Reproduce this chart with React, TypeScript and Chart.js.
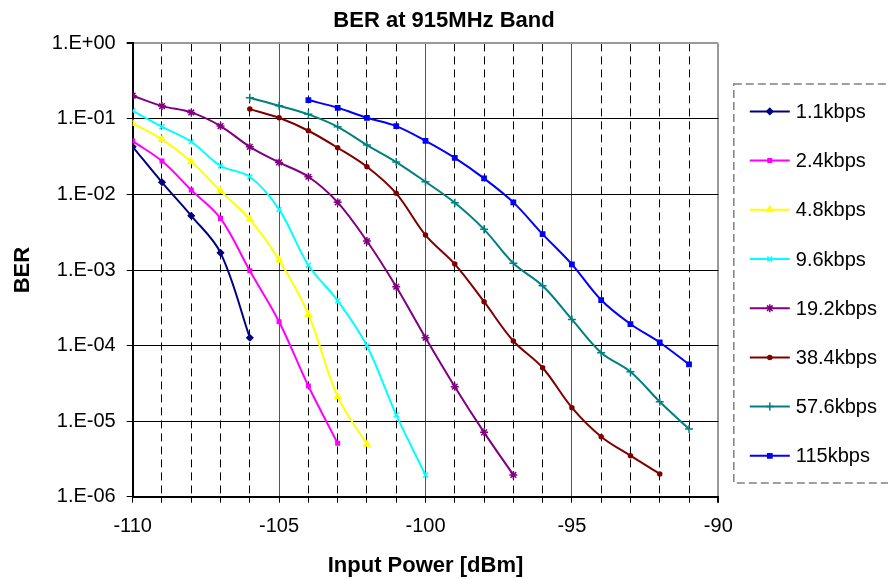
import { useEffect, useRef } from 'react';
import { Chart, registerables } from 'chart.js';
import { drawPoint } from 'chart.js/helpers';

Chart.register(...registerables);

const FONT = '"Liberation Sans", Arial, sans-serif';

const seriesNames = ['1.1kbps', '2.4kbps', '4.8kbps', '9.6kbps', '19.2kbps', '38.4kbps', '57.6kbps', '115kbps'];
const seriesColors = ['#000080', '#FF00FF', '#FFFF00', '#00FFFF', '#800080', '#800000', '#008080', '#0000FF'];
const seriesMarkers = ['rectRot', 'rect', 'triangle', 'crossRot', 'star', 'circle', 'cross', 'rect'];
const seriesMarkerSizes = [3, 2.5, 3.5, 3.5, 4, 2, 4, 3];

const x11 = [-110, -109, -108, -107, -106];
const ber11 = [0.0428, 0.0145, 0.00523, 0.00169, 0.000127];

const x24 = [-110, -109, -108, -107, -106, -105, -104, -103];
const ber24 = [0.0509, 0.0277, 0.01145, 0.00483, 0.00098, 0.000207, 0.0000292, 0.00000509];

const x48 = [-110, -109, -108, -107, -106, -105, -104, -103, -102];
const ber48 = [0.0873, 0.0536, 0.0271, 0.01111, 0.00469, 0.00136, 0.000259, 0.0000211, 0.00000494];

const x96 = [-110, -109, -108, -107, -106, -105, -104, -103, -102, -101, -100];
const ber96 = [0.128, 0.0788, 0.0499, 0.024, 0.0172, 0.00635, 0.00116, 0.000393, 0.0000987, 0.0000121, 0.00000194];

const x192 = [-110, -109, -108, -107, -106, -105, -104, -103, -102, -101, -100, -99, -98, -97];
const ber192 = [0.203, 0.148, 0.122, 0.0805, 0.0428, 0.0266, 0.01717, 0.00787, 0.00242, 0.000601, 0.000127, 0.0000286, 0.00000711, 0.00000194];

const x384 = [-106, -105, -104, -103, -102, -101, -100, -99, -98, -97, -96, -95, -94, -93, -92];
const ber384 = [0.135, 0.1037, 0.0698, 0.0416, 0.0233, 0.01035, 0.0029, 0.0012, 0.000381, 0.000115, 0.0000509, 0.0000151, 0.00000622, 0.00000349, 0.000002];

const x576 = [-106, -105, -104, -103, -102, -101, -100, -99, -98, -97, -96, -95, -94, -93, -92, -91];
const ber576 = [0.1906, 0.1495, 0.115, 0.0788, 0.0451, 0.0269, 0.01475, 0.00778, 0.00346, 0.00123, 0.000619, 0.000222, 0.0000805, 0.0000451, 0.0000181, 0.00000787];

const x115 = [-104, -103, -102, -101, -100, -99, -98, -97, -96, -95, -94, -93, -92, -91];
const ber115 = [0.178, 0.1406, 0.1037, 0.0805, 0.0514, 0.0306, 0.01633, 0.00787, 0.00299, 0.00119, 0.000401, 0.000193, 0.00011, 0.0000565];

const seriesX = [x11, x24, x48, x96, x192, x384, x576, x115];
const seriesY = [ber11, ber24, ber48, ber96, ber192, ber384, ber576, ber115];

const yTickValues = [1e-6, 1e-5, 1e-4, 1e-3, 1e-2, 1e-1, 1];
const yTickLabels = ['1.E-06', '1.E-05', '1.E-04', '1.E-03', '1.E-02', '1.E-01', '1.E+00'];

const boxLegend = {
  id: 'boxLegend',
  afterDraw(chart: any) {
    const { ctx, chartArea } = chart;
    const left = chartArea.right + 15.5;
    const top = chartArea.top + 40.7;
    ctx.save();
    ctx.strokeStyle = '#808080';
    ctx.lineWidth = 1.5;
    ctx.setLineDash([8, 4]);
    ctx.strokeRect(left, top, 400, 399);
    ctx.setLineDash([]);
    chart.data.datasets.forEach((ds: any, i: number) => {
      const y = top + 27.3 + i * 49.2;
      ctx.strokeStyle = ds.borderColor;
      ctx.lineWidth = 2;
      ctx.beginPath();
      ctx.moveTo(left + 16, y);
      ctx.lineTo(left + 56, y);
      ctx.stroke();
      ctx.fillStyle = ds.backgroundColor;
      ctx.strokeStyle = ds.borderColor;
      ctx.lineWidth = 1.5;
      drawPoint(ctx, { pointStyle: ds.pointStyle, radius: ds.pointRadius, rotation: 0, borderWidth: 1.5 } as any, left + 36, y);
      ctx.fillStyle = '#000';
      ctx.font = `20px ${FONT}`;
      ctx.textBaseline = 'middle';
      ctx.textAlign = 'left';
      ctx.fillText(ds.label, left + 62, y + 1);
    });
    ctx.restore();
  },
};

export default function App() {
  const ref = useRef<HTMLCanvasElement>(null);
  useEffect(() => {
    if (!ref.current) return;
    const datasets = seriesNames.map((name, i) => ({
      label: name,
      data: seriesX[i].map((x, j) => ({ x, y: seriesY[i][j] })),
      borderColor: seriesColors[i],
      backgroundColor: seriesColors[i],
      pointStyle: seriesMarkers[i] as any,
      pointRadius: seriesMarkerSizes[i],
      pointBorderWidth: 1.5,
      borderWidth: 2,
      tension: 0.35,
      fill: false,
    }));
    const chart = new Chart(ref.current, {
      type: 'line',
      data: { datasets },
      plugins: [boxLegend],
      options: {
        animation: false,
        responsive: false,
        layout: { padding: 0 },
        plugins: {
          legend: { display: false },
          tooltip: { enabled: false },
          title: {
            display: true,
            text: 'BER at 915MHz Band',
            color: '#000',
            font: { family: FONT, size: 22, weight: 'bold' },
            padding: { top: 8, bottom: 9 },
          },
        },
        scales: {
          x: {
            type: 'linear',
            min: -110,
            max: -90,
            afterFit: (s: any) => { s.height = 82.3; },
            ticks: {
              stepSize: 1,
              autoSkip: false,
              maxRotation: 0,
              color: '#000',
              padding: 12,
              font: { family: FONT, size: 20 },
              callback: (v: any) => (Number(v) % 5 === 0 ? String(v) : ''),
            },
            grid: {
              color: (c: any) => {
                const v = c.tick ? c.tick.value : 0;
                if (v === -90) return '#999';
                return v % 5 === 0 ? '#555' : '#000';
              },
              lineWidth: (c: any) => (c.tick && c.tick.value === -90 ? 2 : 1),
              tickLength: 6,
              tickColor: '#000',
            },
            border: {
              color: '#000',
              width: 2,
              dash: (c: any) => (c.tick && c.tick.value % 5 !== 0 ? [8, 5] : []),
            } as any,
            title: {
              display: true,
              text: 'Input Power [dBm]',
              color: '#000',
              font: { family: FONT, size: 22, weight: 'bold' },
              padding: { top: 0, bottom: 0 },
            },
          },
          y: {
            type: 'logarithmic',
            min: 1e-6,
            max: 1,
            afterFit: (s: any) => { s.width = 132.7; },
            afterBuildTicks: (s: any) => { s.ticks = yTickValues.map((v) => ({ value: v })); },
            ticks: {
              color: '#000',
              padding: 11,
              font: { family: FONT, size: 20 },
              callback: (v: any) => {
                const idx = yTickValues.findIndex((t) => Math.abs(Math.log10(t) - Math.log10(Number(v))) < 1e-6);
                return idx >= 0 ? yTickLabels[idx] : '';
              },
            },
            grid: {
              color: (c: any) => (c.tick && c.tick.value === 1 ? '#999' : '#000'),
              lineWidth: (c: any) => (c.tick && c.tick.value === 1 ? 2 : 1),
              tickLength: 6,
              tickColor: '#000',
            },
            border: { color: '#000', width: 2 },
            title: {
              display: true,
              text: 'BER',
              color: '#000',
              font: { family: FONT, size: 22, weight: 'bold' },
              padding: { top: 10, bottom: 0 },
            },
          },
          legendSpace: {
            type: 'linear',
            position: 'right',
            afterFit: (s: any) => { s.width = 169.7; },
            ticks: { display: false },
            grid: { display: false, drawTicks: false },
            border: { display: false },
          },
        },
      } as any,
    });
    return () => chart.destroy();
  }, []);
  return (
    <div style={{ position: 'absolute', left: 0, top: 0, width: 888, height: 579, background: '#fff' }}>
      <canvas ref={ref} width={888} height={579} style={{ display: 'block' }} />
    </div>
  );
}
